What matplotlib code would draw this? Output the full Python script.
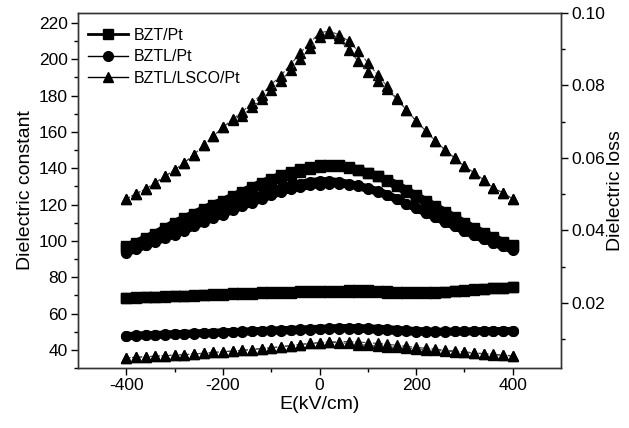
import numpy as np
import matplotlib
matplotlib.use("Agg")
import matplotlib.pyplot as plt
from matplotlib.lines import Line2D

plt.rcParams['font.family'] = ['Liberation Sans', 'DejaVu Sans']
plt.rcParams['axes.unicode_minus'] = False

# field sweep, kV/cm
E = np.arange(-400, 401, 20)

# dielectric constant, two sweeps each
bzt_eps_a = [97, 99, 101.5, 104, 107, 110, 112.5, 115, 117.5, 120, 122, 124.5, 127, 129.5, 132, 134, 136, 138, 139.5, 140.5,
             141.5, 142, 141.5, 140.5, 139, 137.5, 135.5, 133, 130, 127, 124, 121, 118, 115, 112, 109, 106, 103.5, 101, 99, 97]
bzt_eps_b = [96, 98, 100.5, 103, 105.5, 108, 110.5, 113, 115.5, 118, 120.5, 123, 125.5, 128, 130.5, 132.5, 134.5, 136.5, 138, 139.5,
             140.5, 141, 141, 140, 139, 137.5, 135.5, 133.5, 131, 128, 125, 122, 119, 116, 113, 110, 107, 104.5, 102, 99.5, 97.5]
bztl_eps_a = [94, 96, 98, 100, 102.5, 105, 107, 109.5, 112, 114, 116, 118.5, 121, 123, 125, 127, 129, 130.5, 131.5, 132.5,
              133, 133, 132.5, 131.5, 130.5, 129, 127.5, 125.5, 123, 120.5, 118, 115.5, 113, 110.5, 108, 105.5, 103, 101, 99, 97, 95]
bztl_eps_b = [93.5, 95.5, 97.5, 99.5, 101.5, 103.5, 105.5, 108, 110.5, 112.5, 114.5, 117, 119, 121, 123, 125, 127, 128.5, 129.5, 130.5,
              131, 131.5, 131.5, 131, 130, 128.5, 127, 125, 123, 120.5, 118, 115.5, 113, 110.5, 108, 105.5, 103, 101, 99, 97, 95.5]
lsco_eps_a = [123, 126, 128.5, 132, 135.5, 139, 143, 147.5, 152.5, 157.5, 162.5, 167, 171, 176, 180.5, 186, 191, 197, 203.5, 209,
              214.5, 215.5, 213.5, 210, 204.5, 198, 191.5, 185, 178.5, 172, 166, 160.5, 155, 150, 145.5, 141, 137.5, 133.5, 129, 126.5, 123]
lsco_eps_b = [123, 126, 128.5, 132, 135.5, 139, 143, 147.5, 152.5, 157.5, 162.5, 166.5, 169, 173.5, 178, 183, 188, 194, 200, 206,
              212, 214.5, 211.5, 205, 199, 193, 188, 183.5, 178, 172, 166, 160.5, 155, 150, 145.5, 141, 137.5, 133.5, 129, 126.5, 123]

# dielectric loss, two sweeps each
bzt_tan_a = [0.0214, 0.0215, 0.0216, 0.0217, 0.0218, 0.0219, 0.0220, 0.0221, 0.0222, 0.0223, 0.0225, 0.0226, 0.0227, 0.0228,
             0.0229, 0.0230, 0.0231, 0.0231, 0.0232, 0.0232, 0.0232, 0.0233, 0.0234, 0.0235, 0.0235, 0.0235, 0.0234, 0.0233,
             0.0231, 0.0230, 0.0229, 0.0229, 0.0230, 0.0231, 0.0233, 0.0235, 0.0237, 0.0239, 0.0240, 0.0242, 0.0243]
bzt_tan_b = [0.0213, 0.0214, 0.0215, 0.0216, 0.0217, 0.0218, 0.0219, 0.0220, 0.0221, 0.0222, 0.0222, 0.0223, 0.0224, 0.0225,
             0.0226, 0.0227, 0.0228, 0.0228, 0.0229, 0.0229, 0.0230, 0.0230, 0.0231, 0.0231, 0.0231, 0.0230, 0.0229, 0.0228,
             0.0227, 0.0226, 0.0226, 0.0227, 0.0228, 0.0230, 0.0232, 0.0234, 0.0236, 0.0238, 0.0240, 0.0241, 0.0243]
bztl_tan_a = [0.0109, 0.0110, 0.0111, 0.0112, 0.0113, 0.0114, 0.0115, 0.0116, 0.0117, 0.0118, 0.0119, 0.0120, 0.0121, 0.0122,
              0.0123, 0.0124, 0.0125, 0.0126, 0.0127, 0.0128, 0.0129, 0.0130, 0.0131, 0.0131, 0.0131, 0.0130, 0.0129, 0.0128,
              0.0126, 0.0124, 0.0123, 0.0122, 0.0121, 0.0121, 0.0121, 0.0121, 0.0122, 0.0122, 0.0122, 0.0123, 0.0123]
bztl_tan_b = [0.0108, 0.0109, 0.0110, 0.0111, 0.0112, 0.0113, 0.0114, 0.0115, 0.0116, 0.0117, 0.0118, 0.0119, 0.0120, 0.0121,
              0.0122, 0.0123, 0.0123, 0.0124, 0.0125, 0.0126, 0.0127, 0.0128, 0.0129, 0.0129, 0.0128, 0.0127, 0.0125, 0.0124,
              0.0122, 0.0121, 0.0120, 0.0120, 0.0120, 0.0120, 0.0121, 0.0121, 0.0121, 0.0122, 0.0122, 0.0122, 0.0123]
lsco_tan_a = [0.0048, 0.0050, 0.0051, 0.0053, 0.0054, 0.0056, 0.0057, 0.0059, 0.0061, 0.0063, 0.0065, 0.0067, 0.0069, 0.0071,
              0.0074, 0.0076, 0.0079, 0.0082, 0.0085, 0.0088, 0.0090, 0.0092, 0.0093, 0.0093, 0.0092, 0.0090, 0.0088, 0.0086,
              0.0083, 0.0080, 0.0077, 0.0075, 0.0072, 0.0070, 0.0067, 0.0065, 0.0062, 0.0060, 0.0058, 0.0056, 0.0054]
lsco_tan_b = [0.0048, 0.0050, 0.0051, 0.0053, 0.0054, 0.0056, 0.0057, 0.0059, 0.0061, 0.0063, 0.0065, 0.0067, 0.0069, 0.0071,
              0.0074, 0.0076, 0.0079, 0.0082, 0.0085, 0.0088, 0.0090, 0.0091, 0.0090, 0.0088, 0.0085, 0.0083, 0.0081, 0.0079,
              0.0077, 0.0075, 0.0073, 0.0071, 0.0069, 0.0067, 0.0065, 0.0063, 0.0061, 0.0059, 0.0057, 0.0055, 0.0053]

labels = ['BZT/Pt', 'BZTL/Pt', 'BZTL/LSCO/Pt']

fig = plt.figure(figsize=(6.29, 4.28), dpi=100)
ax = fig.add_axes([0.124, 0.140, 0.768, 0.830])
ax2 = ax.twinx()

# squares and circles are measured so densely that they merge into bands
sq = dict(color='k', marker='s', ms=7, lw=5.5, solid_capstyle='butt')
ci = dict(color='k', marker='o', ms=7, lw=5.5, solid_capstyle='butt')
tr = dict(color='#444444', marker='^', ms=6.5, mfc='k', mec='k', lw=0.8, ls='--')

for a, y_list in ((ax, [bzt_eps_a, bzt_eps_b, bztl_eps_a, bztl_eps_b, lsco_eps_a, lsco_eps_b]),
                  (ax2, [bzt_tan_a, bzt_tan_b, bztl_tan_a, bztl_tan_b, lsco_tan_a, lsco_tan_b])):
    a.plot(E, y_list[0], **sq)
    a.plot(E, y_list[1], **sq)
    a.plot(E, y_list[2], **ci)
    a.plot(E, y_list[3], **ci)
    a.plot(E, y_list[4], **tr)
    a.plot(E, y_list[5], **tr)

ax.set_xlim(-500, 500)
ax.set_ylim(30, 225.5)
ax2.set_ylim(0.002, 0.1)
ax.set_xticks([-400, -200, 0, 200, 400])
ax.set_xticks([-300, -100, 100, 300], minor=True)
ax.set_yticks(range(40, 221, 20))
ax.set_yticks(range(30, 226, 20), minor=True)
ax2.set_yticks([0.02, 0.04, 0.06, 0.08, 0.10])
ax2.set_yticks([0.01, 0.03, 0.05, 0.07, 0.09], minor=True)
ax2.set_yticklabels(['0.02', '0.04', '0.06', '0.08', '0.10'])

for a in (ax, ax2):
    a.tick_params(which='major', length=5, width=1, labelsize=12.5, direction='out', pad=2.5)
    a.tick_params(which='minor', length=3, width=1, direction='out')
    for s in a.spines.values():
        s.set_linewidth(1.0)
        s.set_color('#333333')
ax.tick_params(top=False)

ax.set_xlabel('E(kV/cm)', fontsize=14, labelpad=2)
ax.set_ylabel('Dielectric constant', fontsize=14, labelpad=3)
ax2.set_ylabel('Dielectric loss', fontsize=14, labelpad=1)

handles = [Line2D([], [], color='k', marker='s', ms=7, lw=2),
           Line2D([], [], color='k', marker='o', ms=7, lw=1),
           Line2D([], [], color='k', marker='^', ms=7, lw=1)]
ax.legend(handles, labels, loc='upper left', frameon=False, fontsize=11.5,
          handlelength=2.5, handletextpad=0.4, labelspacing=0.4,
          borderaxespad=0.2, bbox_to_anchor=(0.0, 0.985))

fig.savefig('out.png', dpi=100)
